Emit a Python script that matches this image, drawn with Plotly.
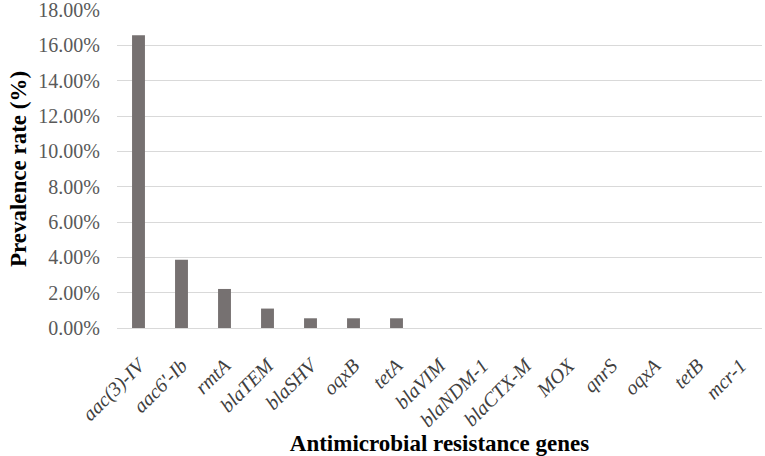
import plotly.graph_objects as go

genes = ["aac(3)-IV", "aac6'-Ib", "rmtA", "blaTEM", "blaSHV", "oqxB", "tetA",
         "blaVIM", "blaNDM-1", "blaCTX-M", "MOX", "qnrS", "oqxA", "tetB", "mcr-1"]
prevalence = [16.57, 3.87, 2.21, 1.10, 0.55, 0.55, 0.55,
              0, 0, 0, 0, 0, 0, 0, 0]
y_ticks = [0, 2, 4, 6, 8, 10, 12, 14, 16, 18]

font = "Liberation Serif, Times New Roman, serif"

fig = go.Figure(go.Bar(
    x=genes,
    y=prevalence,
    marker=dict(color="#767171", line=dict(width=0)),
))

fig.update_layout(
    width=765, height=456,
    margin=dict(l=117, r=3, t=10, b=128),
    paper_bgcolor="white", plot_bgcolor="white",
    bargap=0.70,
    showlegend=False,
    font=dict(family=font, size=15, color="#595959"),
)

fig.update_xaxes(
    automargin=False,
    tickangle=-45,
    tickmode="array",
    tickvals=genes,
    ticktext=["<i>" + g + "</i>" for g in genes],
    tickfont=dict(family=font, size=20, color="#404040"),
    ticklabelstandoff=17,
    showline=True, linecolor="#d9d9d9", linewidth=1,
    title=dict(text="<b>Antimicrobial resistance genes</b>",
               font=dict(family=font, size=23, color="black"), standoff=0),
)

fig.update_yaxes(
    automargin=False,
    range=[0, 18],
    tickmode="array",
    tickvals=y_ticks,
    ticktext=[f"{v:.2f}%" for v in y_ticks],
    tickfont=dict(family=font, size=20, color="#595959"),
    ticklabeloverflow="allow",
    showgrid=True, gridcolor="#d9d9d9", gridwidth=1,
    zeroline=False,
    ticklabelstandoff=16,
    title=dict(text="<b>Prevalence rate (%)</b>",
               font=dict(family=font, size=23, color="black"), standoff=5),
)

# drop the default 8px body margin so the figure sits at the page corner
fig.write_html("out.html", config={"displayModeBar": False},
               post_script="document.body.style.margin = '0';")
